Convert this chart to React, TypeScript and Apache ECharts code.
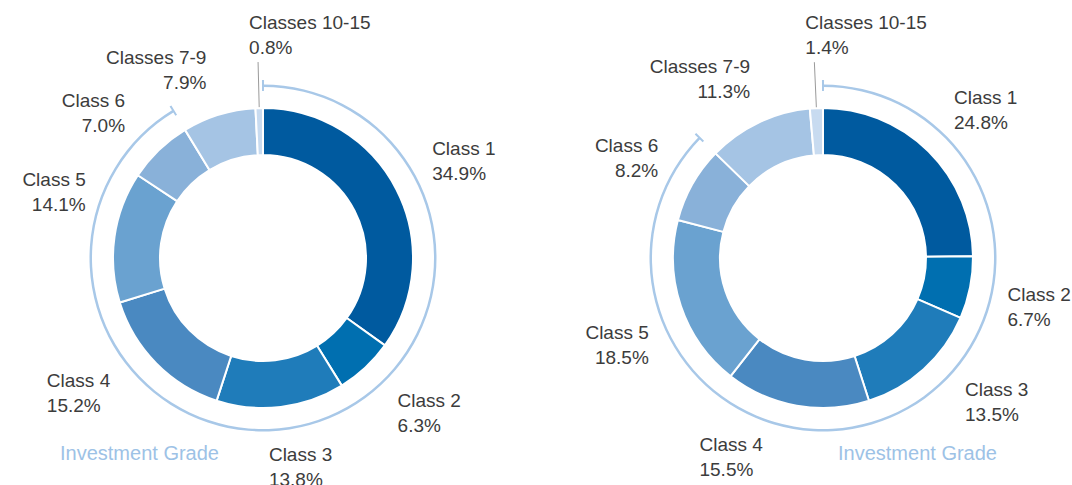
import React, { useEffect, useRef } from "react";
import * as echarts from "echarts";

// ---- data ----
const categories = ["Class 1", "Class 2", "Class 3", "Class 4", "Class 5", "Class 6", "Classes 7-9", "Classes 10-15"];
const leftValues = [34.9, 6.3, 13.8, 15.2, 14.1, 7.0, 7.9, 0.8];
const rightValues = [24.8, 6.7, 13.5, 15.5, 18.5, 8.2, 11.3, 1.4];
const investmentGradeCount = 6; // Class 1 .. Class 6
const gradeTitle = "Investment Grade";

// ---- styles / layout ----
const sliceColors = ["#005A9F", "#006FB0", "#1F7CBA", "#4A89C1", "#6AA2D0", "#89B1D9", "#A5C4E4", "#C8DBF0"];
const arcColor = "#A8C8E8";
const textColor = "#3C3C3C";
const FONT = "'Liberation Sans', Arial, sans-serif";
const R_IN = 103;
const R_OUT = 150;
const textAligns = ["left", "left", "left", "left", "right", "right", "right", "left"];
// label placement tweaks (angle offset in degrees, distance from centre in px)
const leftLabelShift = [4, -3, 5, 9, 5, -5, -2];
const leftLabelDist = [184, 187, 184, 188, 182, 183, 173];
const rightLabelShift = [2, -4, -8, 9, -1, -5, 0];
const rightLabelDist = [180, 186, 185, 184, 185, 181, 170];

function midAngles(values: number[]) {
  const sum = values.reduce((a, b) => a + b, 0);
  let acc = 0;
  return values.map((v) => {
    const m = ((acc + v / 2) / sum) * 360;
    acc += v;
    return m;
  });
}

function buildSeries(values: number[], center: [number, number], shift: number[], dist: number[]) {
  const total = values.reduce((a, b) => a + b, 0);
  const ig = values.slice(0, investmentGradeCount).reduce((a, b) => a + b, 0);
  const mids = midAngles(values);
  const tickAngle = (2 / 172.5) * (180 / Math.PI);
  const tk = (total * tickAngle) / 360;
  const last = values.length - 1;

  const arc = {
    type: "pie",
    silent: true,
    center,
    radius: [171, 173.5],
    startAngle: 90,
    clockwise: true,
    label: { show: false },
    labelLine: { show: false },
    emphasis: { disabled: true },
    data: [
      { value: ig, itemStyle: { color: arcColor } },
      { value: total - ig, itemStyle: { color: "rgba(0,0,0,0)" } },
    ],
  };
  const ticks = {
    type: "pie",
    silent: true,
    center,
    radius: [167, 178],
    startAngle: 90 + tickAngle / 2,
    clockwise: true,
    label: { show: false },
    labelLine: { show: false },
    emphasis: { disabled: true },
    data: [
      { value: tk, itemStyle: { color: arcColor } },
      { value: ig - tk, itemStyle: { color: "rgba(0,0,0,0)" } },
      { value: tk, itemStyle: { color: arcColor } },
      { value: total - ig - tk, itemStyle: { color: "rgba(0,0,0,0)" } },
    ],
  };
  const main = {
    type: "pie",
    center,
    radius: [R_IN, R_OUT],
    startAngle: 90,
    clockwise: true,
    avoidLabelOverlap: false,
    itemStyle: { borderColor: "#ffffff", borderWidth: 2 },
    emphasis: { disabled: true },
    label: {
      show: true,
      position: "outside",
      color: textColor,
      fontFamily: FONT,
      fontSize: 19,
      lineHeight: 25,
      formatter: (p: any) => `${p.name}\n${Number(p.value).toFixed(1)}%`,
    },
    labelLine: { show: false, length: 46, length2: 0, lineStyle: { color: "#9A9A9A", width: 1 } },
    data: categories.map((name, i) => ({
      name,
      value: values[i],
      itemStyle: { color: sliceColors[i] },
      labelLine: { show: i === last },
    })),
    labelLayout: (params: any) => {
      const i = params.dataIndex;
      const w = params.labelRect.width;
      const h = params.labelRect.height;
      if (i === last) {
        const pts = params.labelLinePoints;
        const end = pts[pts.length - 1];
        return {
          x: end[0] - 9,
          y: end[1] - 2.5 - h,
          align: "left",
          verticalAlign: "top",
          labelLinePoints: pts,
        };
      }
      const t = ((mids[i] + shift[i]) * Math.PI) / 180;
      const r = dist[i];
      const px = center[0] + r * Math.sin(t);
      const py = center[1] - r * Math.cos(t);
      const left = Math.sin(t) >= 0 ? px : px - w;
      const top = Math.cos(t) >= 0 ? py - h : py;
      if (textAligns[i] === "left") {
        return { x: left, y: top, align: "left", verticalAlign: "top" };
      }
      return { x: left + w, y: top, align: "right", verticalAlign: "top" };
    },
  };
  return [arc, ticks, main];
}

export default function App() {
  const ref = useRef<HTMLDivElement>(null);
  useEffect(() => {
    document.body.style.margin = "0";
    if (!ref.current) return;
    const chart = echarts.init(ref.current, undefined, { renderer: "svg" });
    const leftCenter: [number, number] = [263, 258];
    const rightCenter: [number, number] = [823, 258];
    chart.setOption({
      animation: false,
      backgroundColor: "#ffffff",
      graphic: [
        {
          type: "text",
          left: 60,
          top: 443,
          style: { text: gradeTitle, fill: "#9DC2E6", font: `20px ${FONT}` },
        },
        {
          type: "text",
          left: 838,
          top: 443,
          style: { text: gradeTitle, fill: "#9DC2E6", font: `20px ${FONT}` },
        },
      ],
      series: [
        ...buildSeries(leftValues, leftCenter, leftLabelShift, leftLabelDist),
        ...buildSeries(rightValues, rightCenter, rightLabelShift, rightLabelDist),
      ],
    });
    return () => chart.dispose();
  }, []);
  return <div ref={ref} style={{ width: 1072, height: 485 }} />;
}
